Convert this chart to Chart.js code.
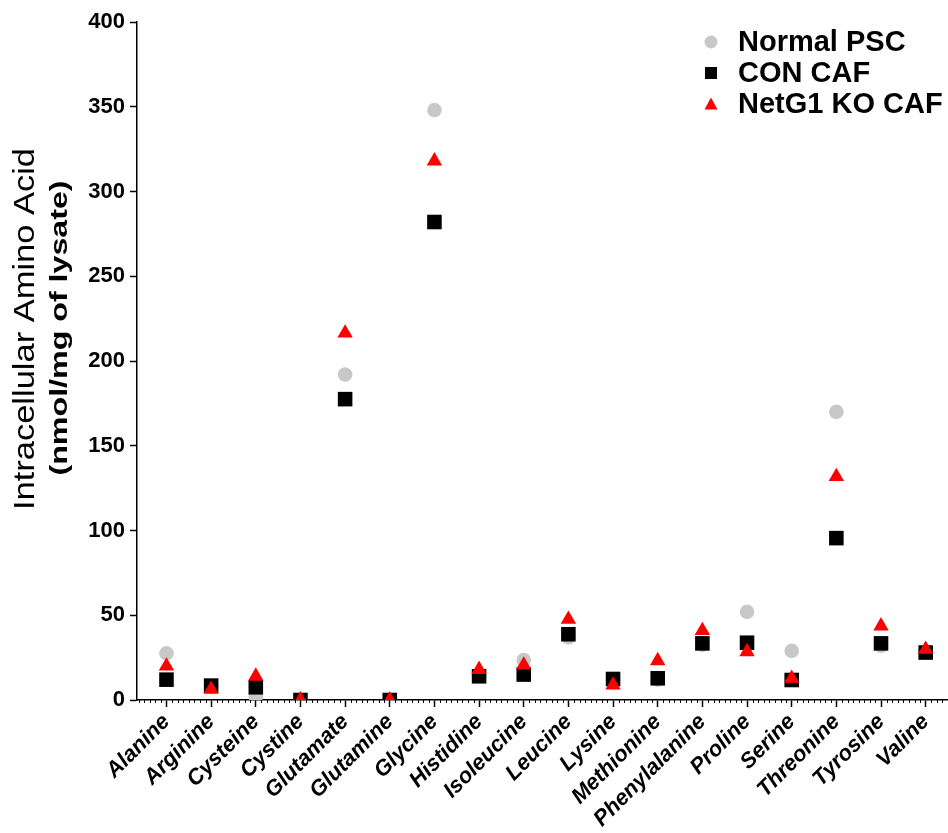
<!DOCTYPE html>
<html>
<head>
<meta charset="utf-8">
<title>Intracellular Amino Acid</title>
<script src="https://cdn.jsdelivr.net/npm/chart.js@4.4.1/dist/chart.umd.min.js"></script>
<style>
  html, body { margin: 0; padding: 0; background: #fff; overflow: hidden; }
  .grafico { position: relative; width: 948px; height: 833px; }
</style>
</head>
<body>
<div class="grafico"><canvas id="graficoAminoacidos"></canvas></div>
<script>
/* ==========================================================================
   1. DADOS
   ========================================================================== */
const aminoacidos = ['Alanine', 'Arginine', 'Cysteine', 'Cystine', 'Glutamate', 'Glutamine', 'Glycine',
    'Histidine', 'Isoleucine', 'Leucine', 'Lysine', 'Methionine', 'Phenylalanine', 'Proline',
    'Serine', 'Threonine', 'Tyrosine', 'Valine'];

const normalPSC  = [27.5, 8, 2, 0, 192, 0, 348, 14, 23.5, 37, 12, 12, 32.5, 52, 29, 170, 32, 28];
const conCAF     = [12, 8.5, 7.5, 0, 177.5, 0, 282, 14, 15, 38.8, 12.4, 12.8, 33.4, 33.8, 11.8, 95.5, 33.4, 28];
const netG1KOCAF = [20, 6.3, 14, 0, 216.5, 0, 318, 18, 20.6, 47.6, 8.8, 23.2, 40.9, 28.5, 12.8, 131.8, 43.7, 29.9];

const nomesSeries = ['Normal PSC', 'CON CAF', 'NetG1 KO CAF'];
const yMax = 400;
const yPasso = 50;

const FONTE = '"Liberation Sans", Arial, sans-serif';

/* ==========================================================================
   2. PLUGINS (título do eixo Y, legenda, traços menores)
   ========================================================================== */
function linhaGirada(ctx, texto, fonte, x, y, comprimento) {
    ctx.save();
    ctx.font = fonte;
    ctx.fillStyle = '#000';
    ctx.textAlign = 'center';
    ctx.textBaseline = 'alphabetic';
    ctx.translate(x, y);
    ctx.rotate(-Math.PI / 2);
    const largura = ctx.measureText(texto).width;
    ctx.scale(comprimento / largura, 1); // o texto original é mais largo que a Arial
    ctx.fillText(texto, 0, 0);
    ctx.restore();
}

const tituloEixoY = {
    id: 'tituloEixoY',
    afterDraw(chart) {
        linhaGirada(chart.ctx, 'Intracellular Amino Acid', '29px ' + FONTE, 34, 329, 362);
        linhaGirada(chart.ctx, '(nmol/mg of lysate)', 'bold 23px ' + FONTE, 67, 328, 295);
    }
};

function desenharMarcador(ctx, estilo, cor, x, y, r) {
    ctx.fillStyle = cor;
    ctx.beginPath();
    if (estilo === 'circle') {
        ctx.arc(x, y, r, 0, Math.PI * 2);
    } else if (estilo === 'rect') {
        ctx.rect(x - r + 0.5, y - r + 0.5, 2 * r - 1, 2 * r - 1);
    } else {
        ctx.moveTo(x, y - r);
        ctx.lineTo(x + r, y + r - 1);
        ctx.lineTo(x - r, y + r - 1);
        ctx.closePath();
    }
    ctx.fill();
}

const legenda = {
    id: 'legenda',
    afterDraw(chart) {
        const ctx = chart.ctx;
        const x0 = chart.chartArea.right - 237;
        const y0 = chart.chartArea.top + 20;
        ctx.save();
        ctx.font = 'bold 29px ' + FONTE;
        ctx.textBaseline = 'middle';
        chart.data.datasets.forEach((ds, i) => {
            const y = y0 + i * 31;
            desenharMarcador(ctx, ds.pointStyle, ds.backgroundColor, x0, y, 6.5);
            ctx.fillStyle = '#000';
            ctx.fillText(ds.label, x0 + 27, y + 1);
        });
        ctx.restore();
    }
};

const tracosMenores = {
    id: 'tracosMenores',
    afterDraw(chart) {
        const escala = chart.scales.x;
        const ctx = chart.ctx;
        ctx.save();
        ctx.strokeStyle = '#000';
        ctx.lineWidth = 1;
        ctx.beginPath();
        for (let v = Math.ceil(escala.min * 8) / 8; v <= escala.max; v += 0.125) {
            if (Math.abs(v - Math.round(v)) < 1e-6) continue;
            const px = Math.round(escala.getPixelForValue(v)) + 0.5;
            ctx.moveTo(px, escala.top);
            ctx.lineTo(px, escala.top + 3);
        }
        ctx.stroke();
        ctx.restore();
    }
};

/* ==========================================================================
   3. GRÁFICO
   ========================================================================== */
function pontos(valores) {
    return valores.map((v, i) => ({ x: i, y: v }));
}

const ctx = document.getElementById('graficoAminoacidos').getContext('2d');

new Chart(ctx, {
    type: 'scatter',
    data: {
        datasets: [
            {
                label: nomesSeries[0],
                data: pontos(normalPSC),
                pointStyle: 'circle',
                backgroundColor: '#c8c8c8',
                borderWidth: 0,
                pointRadius: 7.3,
                order: 2
            },
            {
                label: nomesSeries[1],
                data: pontos(conCAF),
                pointStyle: 'rect',
                backgroundColor: '#000000',
                borderWidth: 0,
                pointRadius: 10.3,
                order: 1
            },
            {
                label: nomesSeries[2],
                data: pontos(netG1KOCAF),
                pointStyle: 'triangle',
                backgroundColor: '#ff0000',
                borderWidth: 0,
                pointRadius: 8.9,
                order: 0
            }
        ]
    },
    options: {
        responsive: true,
        maintainAspectRatio: false,
        animation: false,
        layout: {
            autoPadding: false, // sem folga automática para os marcadores: o eixo X vai até a borda
            padding: { top: 22, right: 0, bottom: 0, left: 0 }
        },
        plugins: {
            legend: { display: false },
            tooltip: { enabled: false }
        },
        scales: {
            x: {
                type: 'linear',
                min: -0.66,
                max: 17.5,
                afterBuildTicks: (escala) => {
                    escala.ticks = aminoacidos.map((_, i) => ({ value: i }));
                },
                afterFit: (escala) => {
                    escala.height = 133;
                    escala.paddingRight = 0;
                },
                ticks: {
                    autoSkip: false,
                    minRotation: 45,
                    maxRotation: 45,
                    padding: 2,
                    color: '#000',
                    font: { family: FONTE, size: 22, weight: 'bold', style: 'italic' },
                    callback: (valor) => aminoacidos[valor]
                },
                grid: { drawOnChartArea: false, tickLength: 7, color: '#000', tickWidth: 1.5 },
                border: { color: '#000', width: 1.5 }
            },
            y: {
                min: 0,
                max: yMax,
                afterFit: (escala) => { escala.width = 137; },
                ticks: {
                    stepSize: yPasso,
                    padding: 5,
                    color: '#000',
                    font: { family: FONTE, size: 22, weight: 'bold' }
                },
                grid: { drawOnChartArea: false, tickLength: 7, color: '#000', tickWidth: 1.5 },
                border: { color: '#000', width: 1.5 }
            }
        }
    },
    plugins: [tituloEixoY, legenda, tracosMenores]
});
</script>
</body>
</html>
